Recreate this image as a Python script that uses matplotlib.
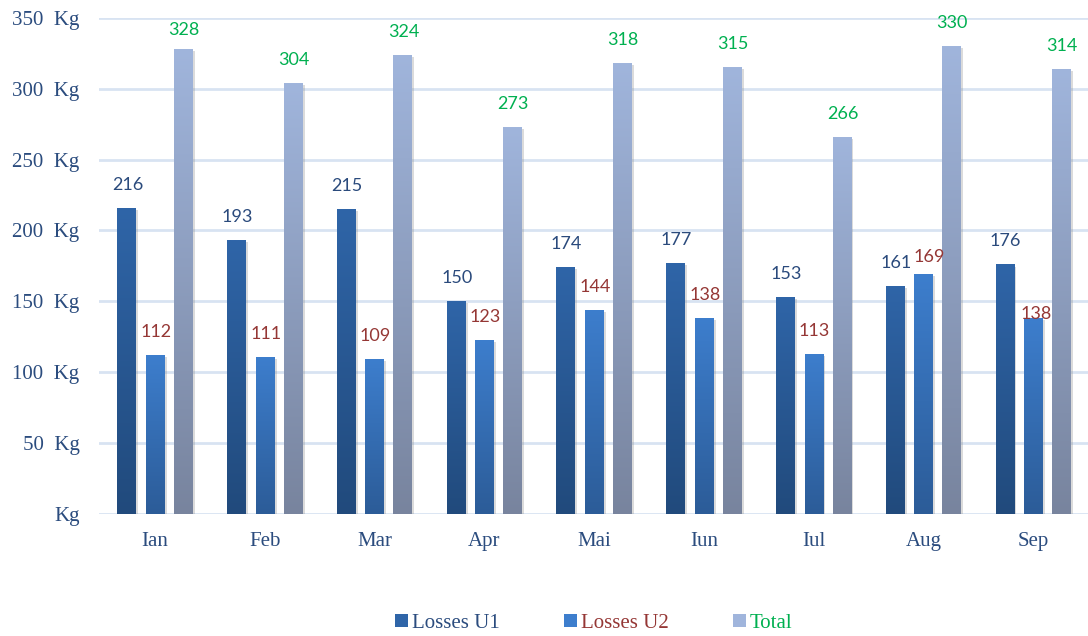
import numpy as np
import matplotlib
matplotlib.use('Agg')
import matplotlib.pyplot as plt
import matplotlib.patheffects as pe
from matplotlib.colors import LinearSegmentedColormap
from matplotlib.patches import Patch

# monthly losses (kg)
months = ['Ian', 'Feb', 'Mar', 'Apr', 'Mai', 'Iun', 'Iul', 'Aug', 'Sep']
losses_u1 = [216, 193, 215, 150, 174, 177, 153, 161, 176]
losses_u2 = [112, 111, 109, 123, 144, 138, 113, 169, 138]
total = [328, 304, 324, 273, 318, 315, 266, 330, 314]

series_names = ['Losses U1', 'Losses U2', 'Total']
yticks = [0, 50, 100, 150, 200, 250, 300, 350]

# (top colour, bottom colour) of each bar gradient
grad = [('#2F65A8', '#214A7C'), ('#3D7ECD', '#2C5C98'), ('#A0B5DC', '#78849E')]
label_colors = ['#2A4A7C', '#953735', '#00B050']
axis_color = '#2B4C7E'

# a few labels moved so they don't collide (x px, y px)
nudge = {(1, 7): (5, -6), (1, 8): (2, -19), (2, 0): (0, -4)}

fig = plt.figure(figsize=(10.88, 6.36), dpi=100)
ax = fig.add_axes([0.091, 0.192, 0.909, 0.780])

x = np.arange(len(months))
width = 0.165
offsets = [-0.26, 0.0, 0.255]
data = [losses_u1, losses_u2, total]

shadow = [pe.SimplePatchShadow(offset=(2, -1.5), shadow_rgbFace='#888888', alpha=0.3), pe.Normal()]

for k, vals in enumerate(data):
    bars = ax.bar(x + offsets[k], vals, width, color=grad[k][1], zorder=2,
                  path_effects=shadow)
    cmap = LinearSegmentedColormap.from_list('g%d' % k, [grad[k][1], grad[k][0]])
    for i, b in enumerate(bars):
        x0, y0 = b.get_x(), b.get_y()
        x1, y1 = x0 + b.get_width(), y0 + b.get_height()
        g = np.linspace(0, 1, 256).reshape(-1, 1)
        im = ax.imshow(g, cmap=cmap, origin='lower', aspect='auto',
                       extent=[x0, x1, y0, y1], zorder=3, interpolation='bilinear')
        im.set_clip_path(b)
        dx, dy = nudge.get((k, i), (0, 0))
        ax.annotate(str(vals[i]), (x0 + b.get_width() / 2, y1),
                    xytext=((dx + 1) * 0.72, (23 + dy) * 0.72), textcoords='offset points',
                    ha='center', va='center', fontsize=13, family='Lato',
                    color=label_colors[k], zorder=5)

ax.set_xlim(-0.51, 8.5)
ax.set_ylim(0, 350)
ax.set_yticks(yticks)
ax.set_yticklabels([('%d  Kg' % v) if v else 'Kg' for v in yticks])
ax.set_xticks(x)
ax.set_xticklabels(months)
for t in ax.get_xticklabels() + ax.get_yticklabels():
    t.set_family('Liberation Serif')
    t.set_fontsize(15)
    t.set_color(axis_color)
ax.tick_params(axis='both', length=0)
ax.tick_params(axis='x', pad=13)
ax.tick_params(axis='y', pad=14)
ax.yaxis.grid(True, color='#D8E3F2', linewidth=2, zorder=0)
ax.set_axisbelow(True)
for s in ax.spines.values():
    s.set_visible(False)

handles = [Patch(facecolor=grad[k][0], edgecolor='none') for k in range(3)]
leg = fig.legend(handles, series_names, loc='center', bbox_to_anchor=(0.546, 0.02),
                 ncol=3, frameon=False, handlelength=0.6, handleheight=0.6,
                 handletextpad=0.2, columnspacing=3.1,
                 prop={'family': 'Liberation Serif', 'size': 15})
for t, c in zip(leg.get_texts(), label_colors):
    t.set_color(c)
leg.get_texts()[0].set_color(axis_color)

fig.savefig('out.png', dpi=100)
